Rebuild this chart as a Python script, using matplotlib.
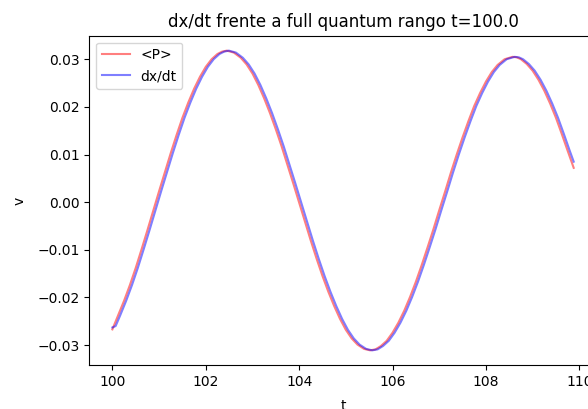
import matplotlib
matplotlib.use("Agg")
import matplotlib.pyplot as plt

# <P> series (red)
t_p = [100.00, 100.125, 100.25, 100.375, 100.50, 100.625, 100.75, 100.875, 101.00, 101.125,
       101.25, 101.375, 101.50, 101.625, 101.75, 101.875, 102.00, 102.125, 102.25, 102.35,
       102.45,
       102.60, 102.75, 102.875, 103.00, 103.125, 103.25, 103.375, 103.50, 103.625, 103.75,
       103.875, 104.00, 104.125, 104.25, 104.375, 104.50, 104.625, 104.75, 104.875, 105.00,
       105.125, 105.25, 105.39,
       105.52,
       105.635, 105.75, 105.875, 106.00, 106.125, 106.25, 106.375, 106.50, 106.625, 106.75,
       106.875, 107.00, 107.125, 107.25, 107.375, 107.50, 107.625, 107.75, 107.875, 108.00,
       108.125, 108.25, 108.40,
       108.57,
       108.66, 108.75, 108.875, 109.00, 109.125, 109.25, 109.375, 109.50, 109.625, 109.75,
       109.88]
v_p = [-0.0267, -0.0237, -0.0207, -0.0174, -0.0138, -0.0099, -0.0059, -0.0018, 0.0023, 0.0063,
       0.0103, 0.0141, 0.0177, 0.0209, 0.0238, 0.0263, 0.0284, 0.0300, 0.0311, 0.0316,
       0.0318,
       0.0314, 0.0303, 0.0289, 0.0270, 0.0246, 0.0218, 0.0187, 0.0153, 0.0117, 0.0078,
       0.0039, -0.0001, -0.0041, -0.0081, -0.0119, -0.0155, -0.0188, -0.0218, -0.0245, -0.0268,
       -0.0286, -0.0299, -0.0308,
       -0.0311,
       -0.0309, -0.0302, -0.0291, -0.0274, -0.0253, -0.0228, -0.0199, -0.0167, -0.0132, -0.0095,
       -0.0057, -0.0017, 0.0022, 0.0062, 0.0100, 0.0136, 0.0170, 0.0202, 0.0229, 0.0253,
       0.0273, 0.0288, 0.0300,
       0.0305,
       0.0304, 0.0300, 0.0290, 0.0276, 0.0257, 0.0234, 0.0207, 0.0177, 0.0143, 0.0108,
       0.0072]

# dx/dt series (blue)
t_d = [100.00, 100.07,
       100.17, 100.295, 100.42, 100.545, 100.67, 100.795, 100.92, 101.045, 101.17, 101.295,
       101.42, 101.545, 101.67, 101.795, 101.92, 102.045, 102.17, 102.295, 102.395,
       102.495,
       102.645, 102.795, 102.92, 103.045, 103.17, 103.295, 103.42, 103.545, 103.67, 103.795,
       103.92, 104.045, 104.17, 104.295, 104.42, 104.545, 104.67, 104.795, 104.92, 105.045,
       105.17, 105.295, 105.435,
       105.565,
       105.68, 105.795, 105.92, 106.045, 106.17, 106.295, 106.42, 106.545, 106.67, 106.795,
       106.92, 107.045, 107.17, 107.295, 107.42, 107.545, 107.67, 107.795, 107.92, 108.045,
       108.17, 108.295, 108.445,
       108.615,
       108.705, 108.795, 108.92, 109.045, 109.17, 109.295, 109.42, 109.545, 109.67, 109.795,
       109.88]
v_d = [-0.0263, -0.0260,
       -0.0237, -0.0207, -0.0174, -0.0138, -0.0099, -0.0059, -0.0018, 0.0023, 0.0063,
       0.0103, 0.0141, 0.0177, 0.0209, 0.0238, 0.0263, 0.0284, 0.0300, 0.0311, 0.0316,
       0.0318,
       0.0314, 0.0303, 0.0289, 0.0270, 0.0246, 0.0218, 0.0187, 0.0153, 0.0117, 0.0078,
       0.0039, -0.0001, -0.0041, -0.0081, -0.0119, -0.0155, -0.0188, -0.0218, -0.0245, -0.0268,
       -0.0286, -0.0299, -0.0308,
       -0.0311,
       -0.0309, -0.0302, -0.0291, -0.0274, -0.0253, -0.0228, -0.0199, -0.0167, -0.0132, -0.0095,
       -0.0057, -0.0017, 0.0022, 0.0062, 0.0100, 0.0136, 0.0170, 0.0202, 0.0229, 0.0253,
       0.0273, 0.0288, 0.0300,
       0.0305,
       0.0304, 0.0300, 0.0290, 0.0276, 0.0257, 0.0234, 0.0207, 0.0177, 0.0143, 0.0108,
       0.0085]

fig = plt.figure(figsize=(5.88, 4.09), dpi=100)
ax = fig.add_axes([0.1519, 0.1068, 0.863, 0.806])
ax.plot(t_p, v_p, color="r", alpha=0.5, label="<P>")
ax.plot(t_d, v_d, color="b", alpha=0.5, label="dx/dt")
ax.set_xticks([100, 102, 104, 106, 108, 110])
ax.set_yticks([-0.03, -0.02, -0.01, 0.00, 0.01, 0.02, 0.03])
ax.set_title("dx/dt frente a full quantum rango t=100.0")
ax.set_xlabel("t", labelpad=7)
ax.set_ylabel("v", labelpad=8)
ax.legend(loc="upper left")
fig.savefig("out.png", dpi=100)
